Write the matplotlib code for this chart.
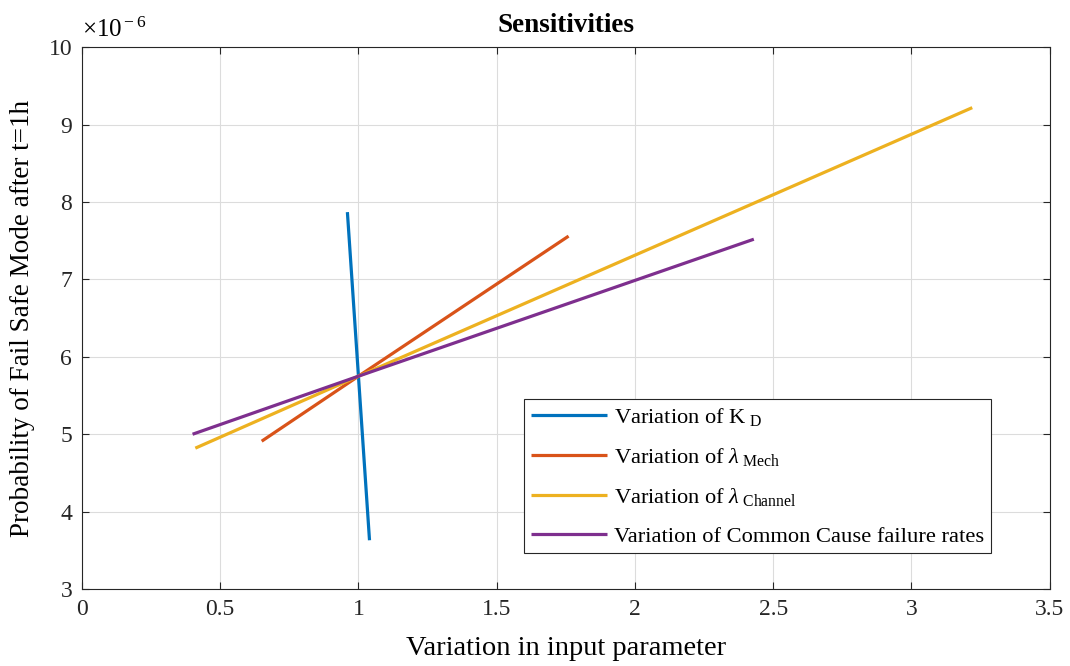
"""
Sensitivity of fail safe mode probability to input parameter variation.
"""
import matplotlib
matplotlib.use("Agg")
import matplotlib.pyplot as plt

# x: variation factor, y: probability in units of 1e-6
kd_x = [0.96, 1.00, 1.04]
kd_y = [7.87, 5.75, 3.63]
mech_x = [0.65, 1.00, 1.76]
mech_y = [4.91, 5.75, 7.56]
chan_x = [0.41, 1.00, 3.22]
chan_y = [4.82, 5.75, 9.22]
cc_x = [0.40, 1.00, 2.43]
cc_y = [5.00, 5.75, 7.52]

labels = [
    r"Variation of K$_{\ \rm D}$",
    r"Variation of $\lambda_{\ \rm Mech}$",
    r"Variation of $\lambda_{\ \rm Channel}$",
    "Variation of Common Cause failure rates",
]
colors = ["#0072BD", "#D95319", "#EDB120", "#7E2F8E"]
x_ticks = [0, 0.5, 1, 1.5, 2, 2.5, 3, 3.5]
x_tick_labels = ["0", "0.5", "1", "1.5", "2", "2.5", "3", "3.5"]
y_ticks = [3, 4, 5, 6, 7, 8, 9, 10]


def main():
    plt.rcParams["font.family"] = ["Liberation Serif", "DejaVu Serif"]
    plt.rcParams["mathtext.fontset"] = "custom"
    plt.rcParams["mathtext.rm"] = "Liberation Serif"
    plt.rcParams["mathtext.it"] = "Liberation Serif:italic"

    fig = plt.figure(figsize=(10.7, 6.66), dpi=100)
    ax = fig.add_axes([0.0766, 0.1156, 0.9044, 0.8134])

    series = [(kd_x, kd_y), (mech_x, mech_y), (chan_x, chan_y), (cc_x, cc_y)]
    for (xs, ys), lab, col in zip(series, labels, colors):
        ax.plot(xs, ys, color=col, lw=2.3, label=lab, solid_capstyle="butt")

    ax.set_xlim(0, 3.5)
    ax.set_ylim(3, 10)
    ax.set_xticks(x_ticks)
    ax.set_xticklabels(x_tick_labels)
    ax.set_yticks(y_ticks)
    ax.tick_params(direction="in", labelsize=17, top=True, right=True,
                   length=5, width=0.8, colors="#262626", pad=7)
    ax.grid(True, color="#dcdcdc", lw=0.8)
    ax.set_axisbelow(True)
    for s in ax.spines.values():
        s.set_color("#262626")
        s.set_linewidth(0.8)

    ax.set_xlabel("Variation in input parameter", fontsize=20.5, labelpad=12)
    ax.set_ylabel("Probability of Fail Safe Mode after t=1h", fontsize=19.5,
                  labelpad=10)
    ax.set_title("Sensitivities", fontsize=19.5, fontweight="bold", pad=11)
    ax.text(0.0, 1.01, r"$\times$10$^{\rm -6}$", transform=ax.transAxes,
            fontsize=18, ha="left", va="bottom")

    leg = ax.legend(loc="lower left", bbox_to_anchor=(0.457, 0.066),
                    fontsize=16.2, fancybox=False, framealpha=1,
                    edgecolor="#262626", handlelength=3.4, borderpad=0.3,
                    labelspacing=0.8, handletextpad=0.3, borderaxespad=0)
    leg.get_frame().set_linewidth(0.8)

    fig.savefig("out.png", dpi=100)


if __name__ == "__main__":
    main()
